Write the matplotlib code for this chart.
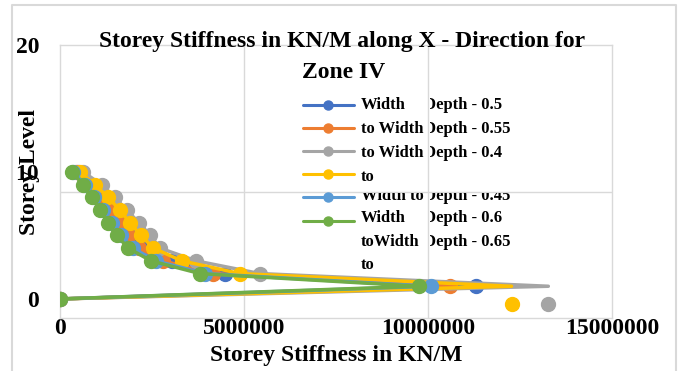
import matplotlib

matplotlib.use("Agg")
import matplotlib.pyplot as plt
from matplotlib.lines import Line2D
from matplotlib.transforms import Bbox

plt.rcParams["font.family"] = ["Liberation Serif", "DejaVu Serif"]
plt.rcParams["font.weight"] = "bold"

# storey levels (base = 0) and stiffness per width-to-depth ratio, KN/M
storeys = [0, 1, 2, 3, 4, 5, 6, 7, 8, 9, 10]
k_050 = [0, 11.30e6, 4.48e6, 3.05e6, 2.35e6, 2.03e6, 1.75e6, 1.48e6, 1.18e6, 0.87e6, 0.50e6]
k_055 = [0, 10.60e6, 4.15e6, 2.80e6, 2.16e6, 1.86e6, 1.60e6, 1.35e6, 1.06e6, 0.78e6, 0.44e6]
k_040 = [0, 13.27e6, 5.43e6, 3.70e6, 2.72e6, 2.45e6, 2.15e6, 1.81e6, 1.49e6, 1.13e6, 0.63e6]
k_045 = [0, 12.27e6, 4.89e6, 3.31e6, 2.54e6, 2.20e6, 1.90e6, 1.63e6, 1.31e6, 0.95e6, 0.54e6]
k_060 = [0, 10.07e6, 3.95e6, 2.60e6, 1.98e6, 1.65e6, 1.41e6, 1.18e6, 0.93e6, 0.68e6, 0.36e6]
k_065 = [0, 9.76e6, 3.80e6, 2.47e6, 1.86e6, 1.54e6, 1.31e6, 1.09e6, 0.86e6, 0.63e6, 0.32e6]

# first-storey markers of the 0.45 and 0.4 series sit below their line ends
stray_k = [12.27e6, 13.27e6]
stray_level = [-0.4, -0.4]

x_ticks = [0, 5000000, 10000000, 15000000]
y_ticks = [0, 10, 20]

series = [
    (k_050, "#4472C4", True),
    (k_055, "#ED7D31", True),
    (k_040, "#A5A5A5", False),
    (k_045, "#FFC000", False),
    (k_060, "#5B9BD5", True),
    (k_065, "#70AD47", True),
]

W, H = 683, 371
GRID = "#D9D9D9"


def fx(px):
    return px / W


def fy(py):
    return 1 - py / H


fig = plt.figure(figsize=(W / 100, H / 100), dpi=100)
ax = fig.add_axes([fx(60), fy(318), fx(612) - fx(60), fy(45) - fy(318)])

for k, color, first_marker in series:
    every = None if first_marker else [i for i in range(len(storeys)) if i != 1]
    ax.plot(k, storeys, color=color, lw=2.5, marker="o", ms=10,
            markevery=every, solid_joinstyle="round", zorder=3)
ax.plot(stray_k[0], stray_level[0], "o", color="#FFC000", ms=10, zorder=3)
ax.plot(stray_k[1], stray_level[1], "o", color="#A5A5A5", ms=10, zorder=3)

ax.set_xlim(0, 15000000)
ax.set_ylim(-1.5, 20)
for xv in x_ticks[1:3]:
    ax.axvline(xv, color=GRID, lw=1.0, zorder=0)
ax.axhline(8.43, color=GRID, lw=1.0, zorder=0)
for sp in ax.spines.values():
    sp.set_color(GRID)
    sp.set_linewidth(1.0)

ax.set_xticks(x_ticks)
ax.set_xticklabels([str(v) for v in x_ticks])
ax.set_yticks(y_ticks)
ax.set_yticklabels([str(v) for v in y_ticks])
ax.tick_params(axis="x", length=0, pad=0, labelsize=17)
ax.tick_params(axis="y", length=0, pad=15, labelsize=17)

fig.text(fx(342), fy(41), "Storey Stiffness in KN/M along X - Direction for",
         ha="center", va="center", fontsize=17, fontweight="bold")
fig.text(fx(344), fy(72), "Zone IV", ha="center", va="center",
         fontsize=17, fontweight="bold")
fig.text(fx(336), fy(355), "Storey Stiffness in KN/M", ha="center", va="center",
         fontsize=17, fontweight="bold")
fig.text(fx(30), fy(172), "Storey Level", ha="center", va="center",
         rotation=90, fontsize=17, fontweight="bold")

# legend keys
key_rows = [105, 128, 151, 174, 197, 221]
for (k, color, _), ry in zip(series, key_rows):
    fig.add_artist(Line2D([fx(303), fx(354)], [fy(ry), fy(ry)], color=color,
                          lw=2.2, solid_capstyle="round"))
    fig.add_artist(Line2D([fx(328)], [fy(ry)], color=color, marker="o", ms=6.5))

# legend labels, wrapped into two columns
col1 = [("Width", 105), ("to Width", 129), ("to Width", 153), ("to", 177),
        ("Width to", 196), ("Width", 218), ("toWidth", 242), ("to", 265)]
col2 = [("Depth - 0.5", 105), ("Depth - 0.55", 129), ("Depth - 0.4", 153),
        ("Depth - 0.45", 196), ("Depth - 0.6", 218), ("Depth - 0.65", 242)]

for txt, ry in col1:
    t = fig.text(fx(361), fy(ry), txt, ha="left", va="center", fontsize=12,
                 fontweight="bold")
    if ry == 196:
        t.set_clip_box(Bbox.from_extents(0, 0, W, H - 193))
        t.set_clip_on(True)
for txt, ry in col2:
    t = fig.text(fx(424), fy(ry), txt, ha="left", va="center", fontsize=12,
                 fontweight="bold")
    top = H - 193 if ry == 196 else H
    t.set_clip_box(Bbox.from_extents(430, 0, W, top))
    t.set_clip_on(True)

# chart border
fig.add_artist(Line2D([fx(12), fx(12), fx(676), fx(676)],
                      [fy(H + 2), fy(5), fy(5), fy(H + 2)], color=GRID, lw=1.5))

fig.savefig("out.png", dpi=100)
